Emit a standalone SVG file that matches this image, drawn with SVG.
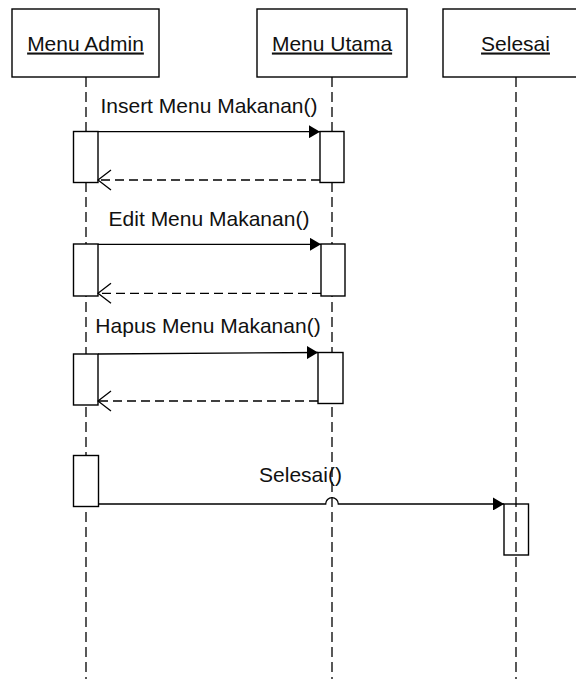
<svg xmlns="http://www.w3.org/2000/svg" width="576" height="679" viewBox="0 0 576 679">
<style>
.box{fill:#fff;stroke:#000;stroke-width:1.4}
.act{fill:#fff;stroke:#000;stroke-width:1.4}
.life{fill:none;stroke:#000;stroke-width:1.3;stroke-dasharray:10 5}
.msg{fill:none;stroke:#000;stroke-width:1.3}
.ret{fill:none;stroke:#000;stroke-width:1.3;stroke-dasharray:9 5}
.hd{font-family:"Liberation Sans",Arial,sans-serif;font-size:21px;fill:#111;text-anchor:middle;text-decoration:underline}
.lbl{font-family:"Liberation Sans",Arial,sans-serif;font-size:21px;fill:#111;text-anchor:middle}
</style>
<defs>
<marker id="af" viewBox="0 0 11 13" refX="11" refY="6.5" markerWidth="11" markerHeight="13" markerUnits="userSpaceOnUse" orient="auto"><path d="M0,0 L11,6.5 L0,13 Z" fill="#000"/></marker>
<marker id="ao" viewBox="-1 -1 15 22" refX="13" refY="10" markerWidth="15" markerHeight="22" markerUnits="userSpaceOnUse" orient="auto"><path d="M0,0 L13,10 L0,20" fill="none" stroke="#000" stroke-width="1.3"/></marker>
</defs>
<rect width="576" height="679" fill="#fff"/>
<g id="lifelines">
<line class="life" x1="86" y1="77" x2="86" y2="679"/>
<line class="life" x1="332" y1="77" x2="332" y2="679"/>
<line class="life" x1="516" y1="77" x2="516" y2="679"/>
</g>
<g id="menu-admin">
<rect class="box" x="12" y="9" width="147" height="68"/>
<text class="hd" x="85.5" y="50.5">Menu Admin</text>
</g>
<g id="menu-utama">
<rect class="box" x="257" y="9" width="150" height="68"/>
<text class="hd" x="332" y="50.5">Menu Utama</text>
</g>
<g id="selesai">
<rect class="box" x="443" y="9" width="146" height="68"/>
<text class="hd" x="515.5" y="50.5">Selesai</text>
</g>
<g id="activations">
<rect class="act" x="73.5" y="131.5" width="24.5" height="51"/>
<rect class="act" x="320" y="131.5" width="24" height="51"/>
<rect class="act" x="73.5" y="244" width="24.5" height="52"/>
<rect class="act" x="321" y="244" width="24" height="52"/>
<rect class="act" x="73.5" y="354" width="24.5" height="51"/>
<rect class="act" x="318" y="352.5" width="25" height="51"/>
<rect class="act" x="73.5" y="455.5" width="25" height="51"/>
</g>
<g id="connectors">
<line class="msg" x1="98" y1="131.7" x2="320" y2="131.7" marker-end="url(#af)"/>
<line class="ret" x1="320" y1="180" x2="98" y2="180" marker-end="url(#ao)"/>
<line class="msg" x1="98" y1="244.3" x2="321" y2="244.3" marker-end="url(#af)"/>
<line class="ret" x1="321" y1="293.3" x2="98" y2="293.3" marker-end="url(#ao)"/>
<line class="msg" x1="98" y1="354" x2="318" y2="352.5" marker-end="url(#af)"/>
<line class="ret" x1="318" y1="401" x2="98" y2="401" marker-end="url(#ao)"/>
<path class="msg" d="M98.5,504 H325.7 A6.3,6.3 0 0 1 338.3,504 H504" marker-end="url(#af)"/>
</g>
<g id="labels">
<text class="lbl" x="209" y="113">Insert Menu Makanan()</text>
<text class="lbl" x="209" y="226">Edit Menu Makanan()</text>
<text class="lbl" x="208" y="333">Hapus Menu Makanan()</text>
<text class="lbl" x="300.5" y="482">Selesai()</text>
</g>
<g id="selesai-activation">
<rect x="504" y="504" width="24.5" height="51" fill="none" stroke="#000" stroke-width="1.4"/>
</g>
</svg>
